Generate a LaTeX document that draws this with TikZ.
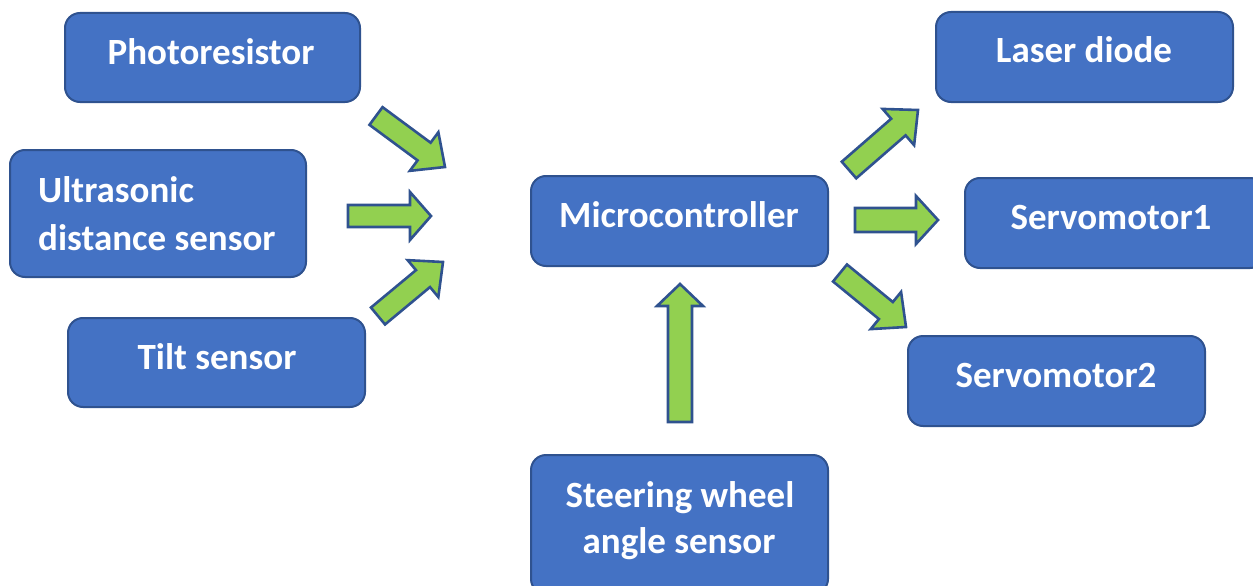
\documentclass[tikz,border=0pt]{standalone}
\usepackage{fontspec}
\setmainfont{Carlito}
\usetikzlibrary{calc}
\definecolor{boxfill}{HTML}{4472C4}
\definecolor{boxline}{HTML}{2F528F}
\definecolor{arrfill}{HTML}{92D050}
\tikzset{
  box/.style={draw=boxline, fill=boxfill, line width=2pt, rounded corners=15pt},
  lbl/.style={text=white, font=\bfseries\fontsize{37}{48}\selectfont, inner sep=0pt},
  barrow/.style={draw=boxline, fill=arrfill, line width=2.6pt, line join=miter}
}
% #1 tail, #2 tip, #3 shaft half width, #4 head half width, #5 head length
\newcommand\blockarrow[5]{%
  \draw[barrow] ($(#1)!#3!90:(#2)$) -- ($(#2)!#5!(#1)!#3!-90:(#1)$)
    -- ($(#2)!#5!(#1)!#4!-90:(#1)$) -- (#2)
    -- ($(#2)!#5!(#1)!#4!90:(#1)$) -- ($(#2)!#5!(#1)!#3!90:(#1)$)
    -- ($(#1)!#3!-90:(#2)$) -- cycle;}
\begin{document}
\begin{tikzpicture}[x=1pt,y=-1pt]
\useasboundingbox (0,0) rectangle (1253,586);
\clip (0,0) rectangle (1253,586);
% boxes
\draw[box] (65,13) rectangle (360,102); \path (212,57) coordinate (photo);
\draw[box] (10,150) rectangle (306,277); \path (158,213) coordinate (ultra);
\draw[box] (68,318) rectangle (365,407); \path (216,362) coordinate (tilt);
\draw[box] (531,176) rectangle (828,266); \path (679,221) coordinate (mcu);
\draw[box] (531,455) rectangle (828,594); \path (679,520) coordinate (steer);
\draw[box] (936,12) rectangle (1233,102); \path (1084,57) coordinate (laser);
\draw[box] (965,178) rectangle (1265,268); \path (1111,223) coordinate (servo1);
\draw[box] (908,336) rectangle (1205,426); \path (1056,381) coordinate (servo2);
% labels
\node[lbl, anchor=base] (tphoto) at (211,64) {Photoresistor};
\node[lbl, anchor=base west] (tultra1) at (38,202) {Ultrasonic};
\node[lbl, anchor=base west] (tultra2) at (38,250) {distance sensor};
\node[lbl, anchor=base] (ttilt) at (217,369) {Tilt sensor};
\node[lbl, anchor=base] (tmcu) at (679,227) {Microcontroller};
\node[lbl, anchor=base] (tsteer1) at (680,507) {Steering wheel};
\node[lbl, anchor=base] (tsteer2) at (679,553) {angle sensor};
\node[lbl, anchor=base] (tlaser) at (1084,63) {Laser diode};
\node[lbl, anchor=base] (tservo1) at (1111,229) {Servomotor1};
\node[lbl, anchor=base] (tservo2) at (1056,387) {Servomotor2};
% arrow end points
\coordinate (a1s) at (376,116); \coordinate (a1e) at (445,167);
\coordinate (a2s) at (348,216); \coordinate (a2e) at (431,216);
\coordinate (a3s) at (378,316); \coordinate (a3e) at (443,262);
\coordinate (a4s) at (849,170); \coordinate (a4e) at (918,110);
\coordinate (a5s) at (855,220); \coordinate (a5e) at (938,220);
\coordinate (a6s) at (840,273); \coordinate (a6e) at (906,327);
\coordinate (a7s) at (680,422); \coordinate (a7e) at (680,284);
\blockarrow{a1s}{a1e}{11pt}{24pt}{26pt}
\blockarrow{a2s}{a2e}{11pt}{24pt}{21pt}
\blockarrow{a3s}{a3e}{11pt}{24pt}{26pt}
\blockarrow{a4s}{a4e}{11pt}{24pt}{26pt}
\blockarrow{a5s}{a5e}{12pt}{24pt}{22pt}
\blockarrow{a6s}{a6e}{11pt}{24pt}{26pt}
\blockarrow{a7s}{a7e}{12pt}{23pt}{22pt}
\end{tikzpicture}
\end{document}
